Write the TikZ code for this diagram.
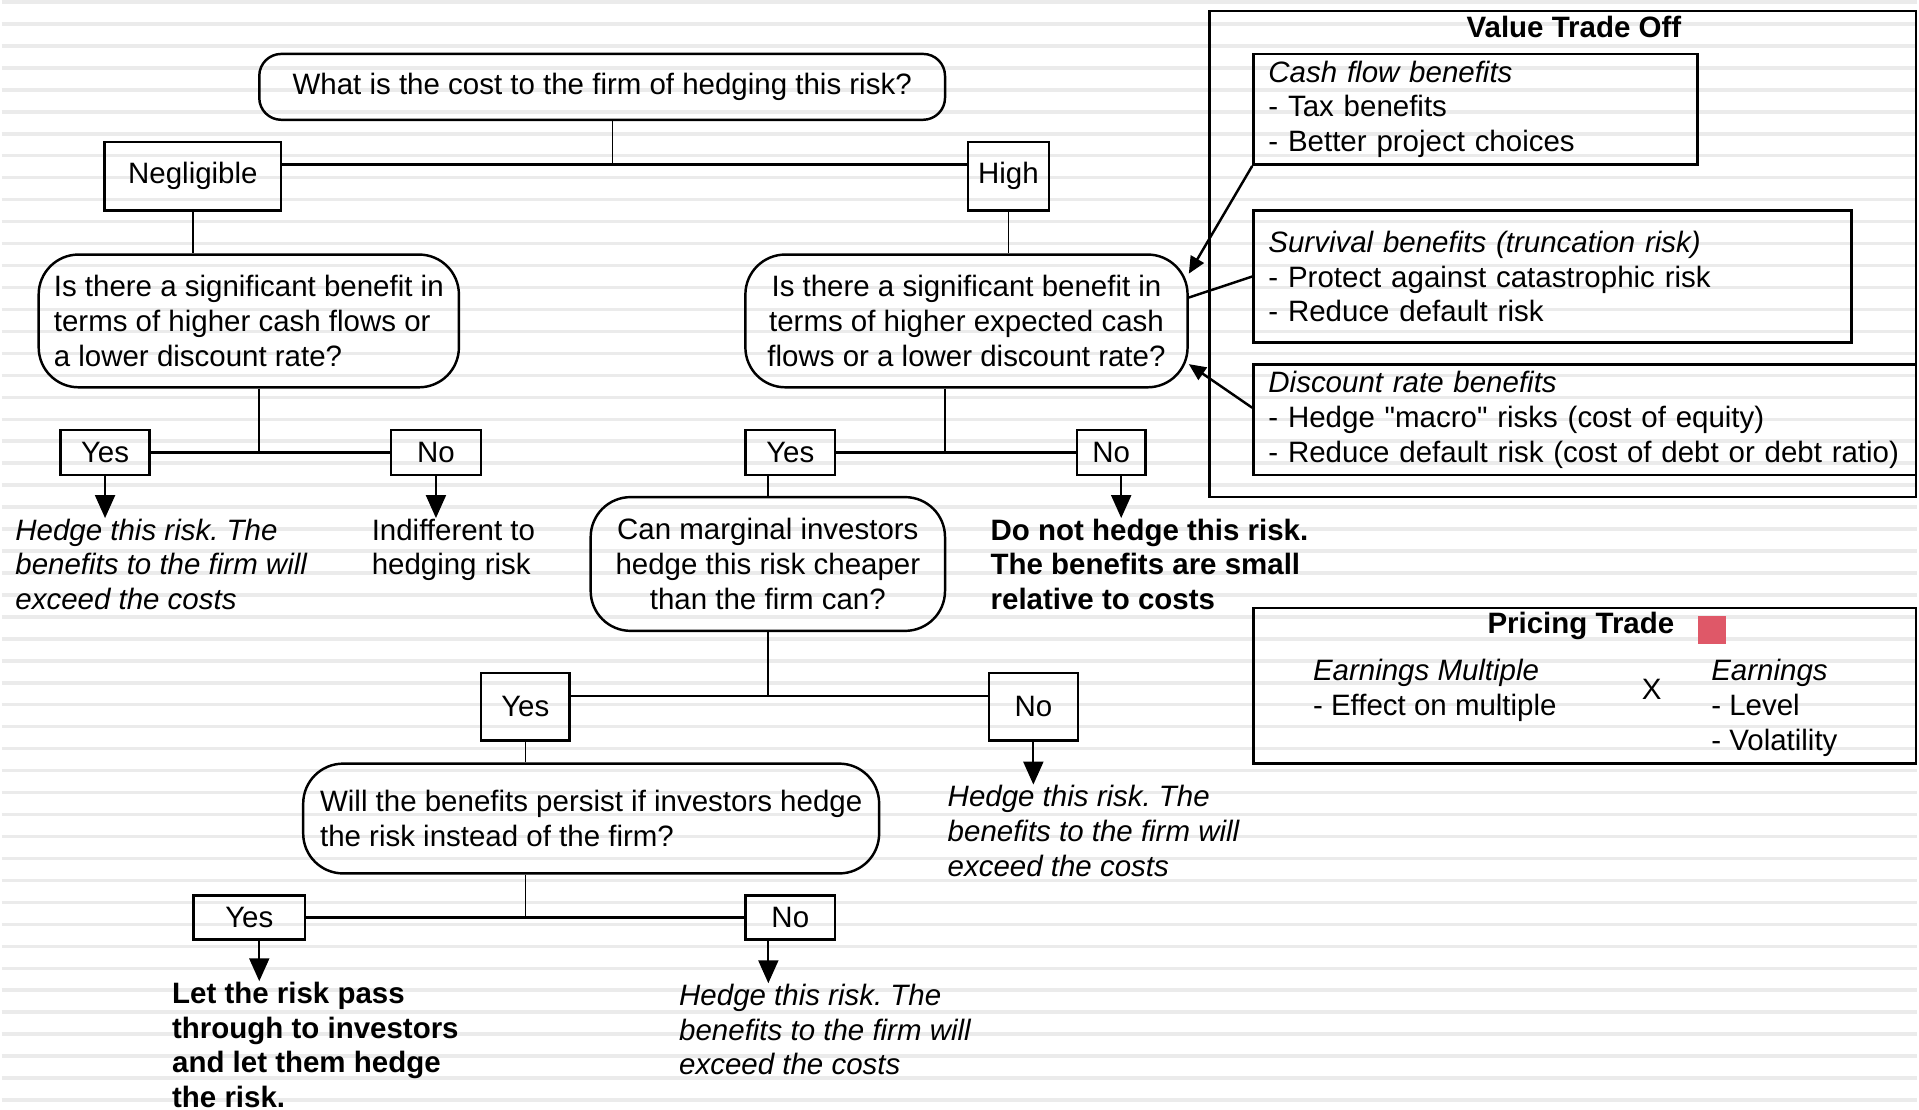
\documentclass[tikz,border=0pt]{standalone}
\usepackage{fontspec}
\setmainfont{Liberation Sans}
\usepackage{tikz}
\usetikzlibrary{arrows.meta, positioning}
\definecolor{marker}{RGB}{223,88,104}
\newcommand{\dfont}{\fontsize{8.4}{9.9}\selectfont}
\frenchspacing

\begin{document}
\begin{tikzpicture}[
  x=0.1mm, y=-0.1mm,
  every node/.style={font=\dfont, inner sep=0pt},
  qbox/.style={rectangle, draw, line width=0.7pt, rounded corners=4mm, align=center},
  ans/.style={rectangle, draw, line width=0.7pt, minimum height=4.5mm},
  res/.style={anchor=north west, align=left},
  ben/.style={rectangle, draw, line width=0.7pt, align=left, inner xsep=1.5mm},
  panel/.style={rectangle, draw, line width=0.7pt},
  link/.style={line width=0.7pt},
  stem/.style={line width=0.45pt},
  arr/.style={-{Triangle[length=2.3mm, width=2mm]}, line width=0.6pt},
  darr/.style={-{Triangle[length=1.7mm, width=1.5mm]}, line width=0.7pt},
  stripe/.style={black!8, line width=0.35mm},
]
\fill[white] (0,0) rectangle (1919,1112);
\foreach \k in {0,...,50}
  \draw[stripe] (0,{2+22*\k}) -- (1919,{2+22*\k});
\useasboundingbox (0,0) rectangle (1919,1112);

\node[qbox, rounded corners=2.2mm, minimum width=68.7mm, minimum height=6.6mm] (cost) at (601.5,87) {What is the cost to the firm of hedging this risk?};
\node[ans, minimum width=17.7mm, minimum height=6.9mm] (negl) at (191.5,176.5) {Negligible};
\node[ans, minimum width=8.1mm, minimum height=6.9mm] (high) at (1008.5,176.5) {High};
\node[qbox, align=left, minimum width=42.1mm, minimum height=13.3mm] (benL) at (247.5,321.5) {Is there a significant benefit in\\terms of higher cash flows or\\a lower discount rate?};
\node[qbox, minimum width=44.3mm, minimum height=13.3mm] (benR) at (966.5,321.5) {Is there a significant benefit in\\terms of higher expected cash\\flows or a lower discount rate?};
\node[ans, minimum width=8.9mm] (yesL) at (103.5,453.5) {Yes};
\node[ans, minimum width=9mm] (noL) at (435,453.5) {No};
\node[ans, minimum width=9mm] (yesR) at (790,453.5) {Yes};
\node[ans, minimum width=6.9mm] (noR) at (1111.5,453.5) {No};
\node[res, font=\dfont\itshape] (hedgeL) at (13,519) {Hedge this risk. The\\benefits to the firm will\\exceed the costs};
\node[res] (indiff) at (370,519) {Indifferent to\\hedging risk};
\node[res, font=\dfont\bfseries] (nohedge) at (990,519) {Do not hedge this risk.\\The benefits are small\\relative to costs};
\node[qbox, minimum width=35.5mm, minimum height=13.4mm] (cheap) at (767.5,565) {Can marginal investors\\hedge this risk cheaper\\than the firm can?};
\node[ans, minimum width=8.9mm, minimum height=6.8mm] (yesM) at (524.5,708) {Yes};
\node[ans, minimum width=8.9mm, minimum height=6.8mm] (noM) at (1033.5,708) {No};
\node[res, font=\dfont\itshape] (hedgeM) at (947,786) {Hedge this risk. The\\benefits to the firm will\\exceed the costs};
\node[qbox, align=left, minimum width=57.7mm, minimum height=11mm] (persist) at (590.5,820) {Will the benefits persist if investors hedge\\the risk instead of the firm?};
\node[ans, minimum width=11.2mm, minimum height=4.4mm] (yesB) at (248,919) {Yes};
\node[ans, minimum width=9mm, minimum height=4.4mm] (noB) at (790,919) {No};
\node[res, font=\dfont\bfseries] (pass) at (170,983) {Let the risk pass\\through to investors\\and let them hedge\\the risk.};
\node[res, font=\dfont\itshape] (hedgeB) at (678,985) {Hedge this risk. The\\benefits to the firm will\\exceed the costs};

\coordinate (topj) at (612,165);
\coordinate (lj) at (258,453.5);
\coordinate (rj) at (945,453.5);
\coordinate (mj) at (767.5,697);
\coordinate (bj) at (524.5,919);

\draw[stem] (cost.south -| topj) -- (topj);
\draw[link] (negl.east |- topj) -- (high.west |- topj);
\draw[stem] (negl.south) -- (negl.south |- benL.north);
\draw[stem] (high.south) -- (high.south |- benR.north);
\draw[stem] (benL.south -| lj) -- (lj);
\draw[link] (yesL) -- (noL);
\draw[stem] (benR.south -| rj) -- (rj);
\draw[link] (yesR) -- (noR);
\draw[stem] (cheap.north |- yesR.south) -- (cheap.north);
\draw[arr] (yesL.south) -- (yesL.south |- hedgeL.north);
\draw[arr] (noL.south) -- (noL.south |- indiff.north);
\draw[arr] ([xshift=1mm]noR.south) -- ([xshift=1mm]noR.south |- nohedge.north);
\draw[stem] (cheap.south) -- (mj);
\draw[link] (yesM.east |- mj) -- (noM.west |- mj);
\draw[stem] (yesM.south) -- (yesM.south |- persist.north);
\draw[arr] (noM.south) -- (noM.south |- hedgeM.north);
\draw[stem] (persist.south -| bj) -- (bj);
\draw[link] (yesB) -- (noB);
\draw[arr] ([xshift=1mm]yesB.south) -- ([xshift=1mm]yesB.south |- pass.north);
\draw[arr] ([xshift=-2.2mm]noB.south) -- ([xshift=-2.2mm]noB.south |- hedgeB.north);

\node[panel, minimum width=70.8mm, minimum height=48.7mm] (valbox) at (1564,254.5) {};
\node[font=\dfont\bfseries] (valtitle) at (1575,27) {Value Trade Off};
\node[ben, text width=41.5mm, minimum height=11.1mm] (cash) at (1476.5,109.5) {\textit{Cash flow benefits}\\- Tax benefits\\- Better project choices};
\node[ben, text width=56.9mm, minimum height=13.2mm] (surv) at (1553.5,277) {\textit{Survival benefits (truncation risk)}\\- Protect against catastrophic risk\\- Reduce default risk};
\node[ben, text width=63.4mm, minimum height=11.1mm] (disc) at (1586,420.5) {\textit{Discount rate benefits}\\- Hedge \textquotedbl{}macro\textquotedbl{} risks (cost of equity)\\- Reduce default risk (cost of debt or debt ratio)};
\draw[darr] (cash.south west) -- (benR.12);
\draw[link] (surv.west) -- (benR.6);
\draw[darr] ([yshift=1.2mm]disc.west) -- (benR.-11);

\node[panel, minimum width=66.4mm, minimum height=15.6mm] (pricebox) at (1586,687) {};
\node[font=\dfont\bfseries] (pricetitle) at (1582,627) {Pricing Trade};
\node[fill=marker, minimum size=2.8mm] (flag) at (1713,631) {};
\node[res] (mult) at (1313,660) {\textit{Earnings Multiple}\\- Effect on multiple};
\node (times) at (1653,691) {X};
\node[res] (earn) at (1712,660) {\textit{Earnings}\\- Level\\- Volatility};
\end{tikzpicture}
\end{document}
